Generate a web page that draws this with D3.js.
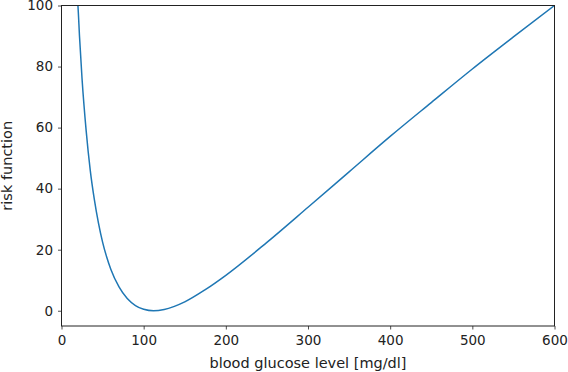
<!DOCTYPE html>
<html>
<head>
<meta charset="utf-8">
<script src="https://cdn.jsdelivr.net/npm/d3@7/dist/d3.min.js"></script>
<style>
  body { margin: 0; background: #fff; }
  text { font-family: "DejaVu Sans", sans-serif; fill: #222; }
</style>
</head>
<body>
<div id="chart"></div>
<script>
// Values (blood glucose in mg/dl, risk value).
const glucose = [18, 20, 22, 25, 30, 35, 40, 45, 50, 55, 60, 70, 80, 90, 100, 112, 125, 150, 175, 200, 250, 300, 350, 400, 450, 500, 550, 600];
const risk = [106, 100, 89.5, 76, 59, 46, 36.4, 28.7, 22.5, 17.6, 13.6, 7.8, 4.0, 1.7, 0.5, 0, 0.4, 2.9, 6.9, 11.6, 22.4, 33.9, 45.5, 57.1, 68.2, 79.2, 89.7, 100];
const xTicks = [0, 100, 200, 300, 400, 500, 600];
const yTicks = [0, 20, 40, 60, 80, 100];

const width = 568;
const height = 372;
const margin = { top: 5.5, right: 13.5, bottom: 46, left: 61.5 };

const svg = d3.select("#chart")
    .append("svg")
    .attr("width", width)
    .attr("height", height);

// Scales
const x = d3.scaleLinear()
    .domain([0, 600])
    .range([margin.left, width - margin.right]);

const y = d3.scaleLinear()
    .domain([-5, 100])
    .range([height - margin.bottom, margin.top]);

// Clip the curve to the plot area
svg.append("clipPath")
    .attr("id", "clip")
    .append("rect")
    .attr("x", margin.left)
    .attr("y", margin.top)
    .attr("width", width - margin.left - margin.right)
    .attr("height", height - margin.top - margin.bottom);

const data = glucose.map((g, i) => ({ g: g, r: risk[i] }));

const line = d3.line()
    .x(d => x(d.g))
    .y(d => y(d.r))
    .curve(d3.curveMonotoneX);

svg.append("path")
    .datum(data)
    .attr("clip-path", "url(#clip)")
    .attr("fill", "none")
    .attr("stroke", "#1f77b4")
    .attr("stroke-width", 1.5)
    .attr("d", line);

// Axes
const xAxis = svg.append("g")
    .attr("transform", `translate(0, ${height - margin.bottom})`)
    .call(d3.axisBottom(x).tickValues(xTicks).tickSize(3.5).tickPadding(5.5).tickFormat(d3.format("d")));

const yAxis = svg.append("g")
    .attr("transform", `translate(${margin.left}, 0)`)
    .call(d3.axisLeft(y).tickValues(yTicks).tickSize(3.5).tickPadding(5).tickFormat(d3.format("d")));

[xAxis, yAxis].forEach(a => {
    a.select(".domain").remove();
    a.selectAll(".tick line").attr("stroke", "#222").attr("stroke-width", 0.8);
    a.selectAll(".tick text")
        .attr("font-family", "DejaVu Sans, sans-serif")
        .attr("font-size", 13.5)
        .attr("fill", "#222");
});

// Frame
svg.append("rect")
    .attr("x", margin.left)
    .attr("y", margin.top)
    .attr("width", width - margin.left - margin.right)
    .attr("height", height - margin.top - margin.bottom)
    .attr("fill", "none")
    .attr("stroke", "#222")
    .attr("stroke-width", 1);

// Axis labels
svg.append("text")
    .attr("x", (margin.left + width - margin.right) / 2)
    .attr("y", height - 4)
    .attr("text-anchor", "middle")
    .attr("font-size", 14.5)
    .text("blood glucose level [mg/dl]");

svg.append("text")
    .attr("transform", `translate(12, ${(margin.top + height - margin.bottom) / 2}) rotate(-90)`)
    .attr("text-anchor", "middle")
    .attr("font-size", 14.5)
    .text("risk function");
</script>
</body>
</html>
